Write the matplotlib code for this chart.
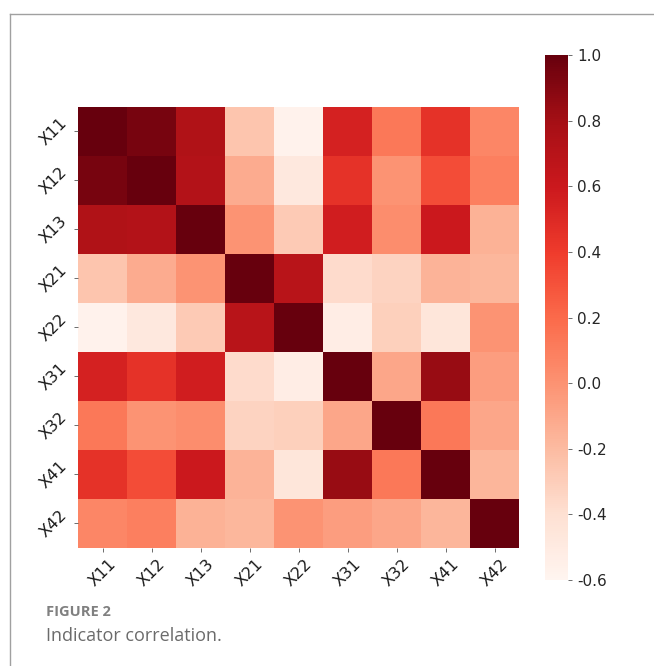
import numpy as np
import matplotlib
matplotlib.use("Agg")
import matplotlib.pyplot as plt
from matplotlib.lines import Line2D
from matplotlib.ticker import FuncFormatter

labels = ["X11", "X12", "X13", "X21", "X22", "X31", "X32", "X41", "X42"]

# Upper-triangle correlations, row by row (diagonal = 1)
r_x11 = [0.95, 0.74, -0.25, -0.57, 0.55, 0.13, 0.45, 0.06]
r_x12 = [0.72, -0.12, -0.48, 0.45, 0.00, 0.33, 0.10]
r_x13 = [0.00, -0.28, 0.57, 0.03, 0.60, -0.15]
r_x21 = [0.70, -0.37, -0.33, -0.16, -0.18]
r_x22 = [-0.52, -0.31, -0.45, 0.00]
r_x31 = [-0.10, 0.84, -0.05]
r_x32 = [0.13, -0.10]
r_x41 = [-0.17]

upper_rows = [r_x11, r_x12, r_x13, r_x21, r_x22, r_x31, r_x32, r_x41]

n = len(labels)
corr = np.eye(n)
for i, row in enumerate(upper_rows):
    for k, v in enumerate(row):
        j = i + 1 + k
        corr[i, j] = v
        corr[j, i] = v

plt.rcParams["font.family"] = ["DejaVu Sans"]

fig = plt.figure(figsize=(6.54, 6.66), dpi=100)

ax = fig.add_axes([0.1193, 0.1772, 0.6743, 0.6622])
mesh = ax.pcolormesh(np.arange(n + 1), np.arange(n + 1), corr,
                     cmap="Reds", vmin=-0.6, vmax=1.0)
ax.set_xlim(0, n)
ax.set_ylim(n, 0)
ax.set_xticks(np.arange(n) + 0.5)
ax.set_yticks(np.arange(n) + 0.5)
ax.set_xticklabels(labels, rotation=45, ha="center", fontsize=11.5, color="#1a1a1a")
ax.set_yticklabels(labels, rotation=45, va="center", fontsize=11.5, color="#1a1a1a")
ax.tick_params(length=3, width=0.6, color="#555555", pad=3)
for s in ax.spines.values():
    s.set_visible(False)

cax = fig.add_axes([0.8333, 0.1291, 0.0352, 0.7883])
cb = fig.colorbar(mesh, cax=cax)
cb.outline.set_visible(False)
cb.set_ticks(np.round(np.arange(-0.6, 1.01, 0.2), 1))
cb.ax.yaxis.set_major_formatter(FuncFormatter(lambda v, p: f"{v:.1f}".replace("\u2212", "-")))
cb.ax.tick_params(labelsize=11, length=3, width=0.6, color="#555555", labelcolor="#262626")

# Frame lines along the top and left edges
fig.add_artist(Line2D([10 / 654, 1.0], [1 - 14 / 666, 1 - 14 / 666],
                      transform=fig.transFigure, color="#a0a0a0", lw=1.0))
fig.add_artist(Line2D([10 / 654, 10 / 654], [1 - 14 / 666, 0.0],
                      transform=fig.transFigure, color="#a0a0a0", lw=1.0))

fig.text(46 / 654, 1 - 612 / 666, "FIGURE 2", fontsize=10.5, fontweight="bold",
         color="#808080", va="center", ha="left", family=["Open Sans", "DejaVu Sans"])
fig.text(46 / 654, 1 - 636 / 666, "Indicator correlation.", fontsize=13,
         color="#6b6b6b", va="center", ha="left", family=["Open Sans", "DejaVu Sans"])

fig.savefig("out.png", dpi=100)
